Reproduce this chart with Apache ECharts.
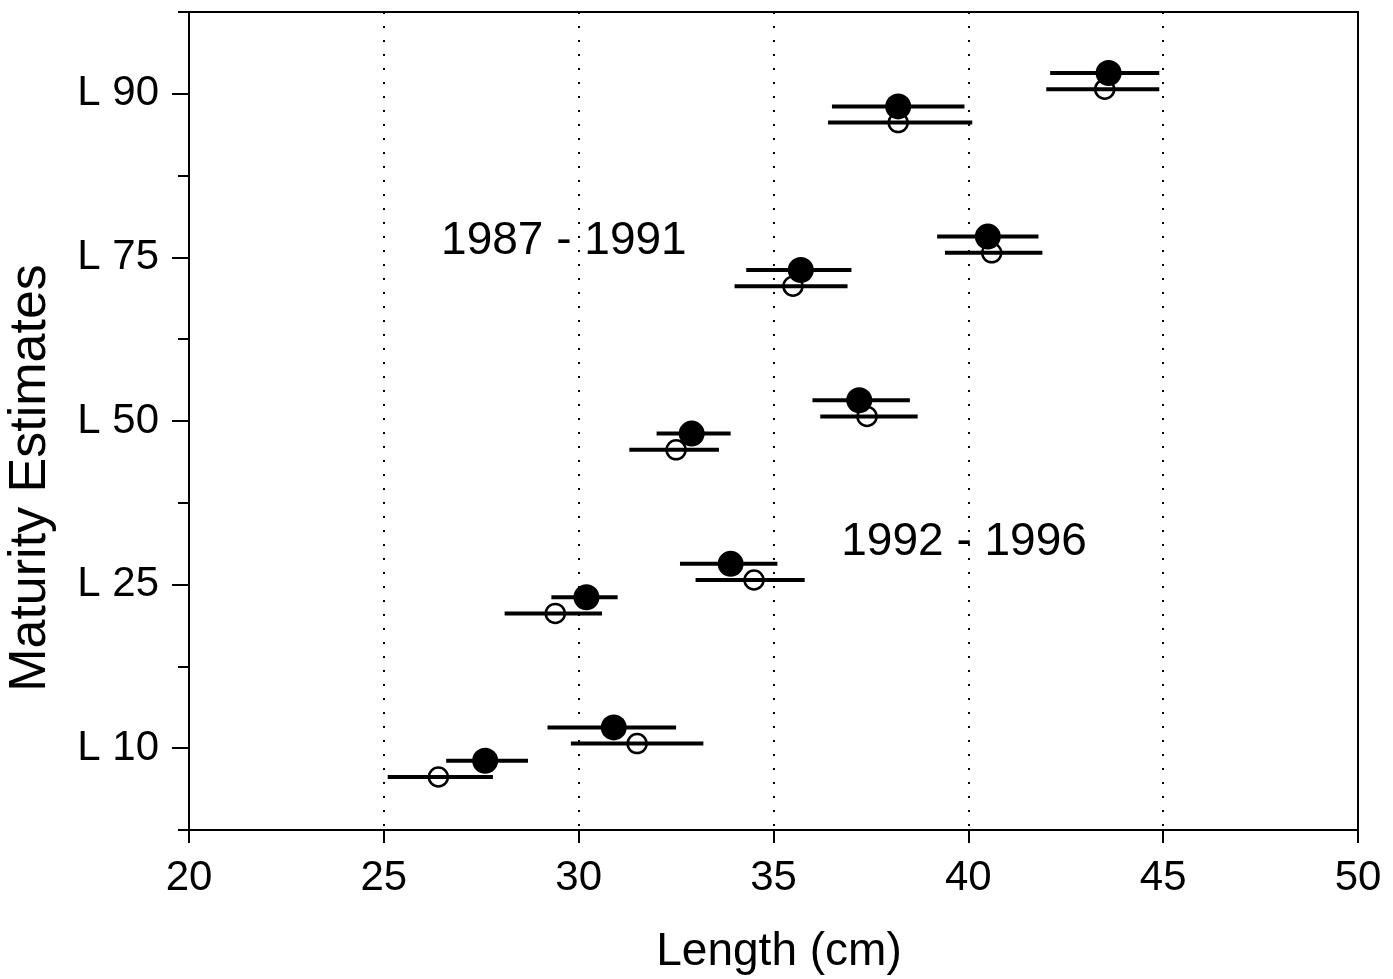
<!DOCTYPE html>
<html>
<head>
<meta charset="utf-8">
<script src="https://cdn.jsdelivr.net/npm/echarts@6/dist/echarts.min.js"></script>
<style>
html,body{margin:0;padding:0;background:#fff;}
#chart{width:1393px;height:979px;}
</style>
</head>
<body>
<div id="chart"></div>
<script>
// ---- Data ----
const categories = ['L 10', 'L 25', 'L 50', 'L 75', 'L 90'];
const xTicks = [20, 25, 30, 35, 40, 45, 50];

// 1987 - 1991 group (left), filled circles
const earlyFilled   = [27.6, 30.2, 32.9, 35.7, 38.2];
const earlyFilledLo = [26.6, 29.3, 32.0, 34.3, 36.5];
const earlyFilledHi = [28.7, 31.0, 33.9, 37.0, 39.9];
// 1987 - 1991 group (left), open circles
const earlyOpen   = [26.4, 29.4, 32.5, 35.5, 38.2];
const earlyOpenLo = [25.1, 28.1, 31.3, 34.0, 36.4];
const earlyOpenHi = [27.8, 30.6, 33.6, 36.9, 40.1];
// 1992 - 1996 group (right), filled circles
const lateFilled   = [30.9, 33.9, 37.2, 40.5, 43.6];
const lateFilledLo = [29.2, 32.6, 36.0, 39.2, 42.1];
const lateFilledHi = [32.5, 35.1, 38.5, 41.8, 44.9];
// 1992 - 1996 group (right), open circles
const lateOpen   = [31.5, 34.5, 37.4, 40.6, 43.5];
const lateOpenLo = [29.8, 33.0, 36.2, 39.4, 42.0];
const lateOpenHi = [33.2, 35.8, 38.7, 41.9, 44.9];

const annotations = [
  { text: '1987 - 1991', x: 29.62, y: 3.60 },
  { text: '1992 - 1996', x: 39.89, y: 1.76 }
];

// ---- Layout / style ----
const FONT = '"Liberation Sans", Arial, Helvetica, sans-serif';
// vertical offsets (in category units) of each row within its category
const OFF = { earlyFilled: -0.077, earlyOpen: -0.176, lateFilled: 0.127, lateOpen: 0.028 };

function yOf(i, off) { return i + 0.5 + off; }

function errSeries(lo, hi, off) {
  return {
    type: 'custom',
    xAxisIndex: 0, yAxisIndex: 0,
    data: categories.map((c, i) => [lo[i], hi[i], yOf(i, off)]),
    encode: { x: [0, 1], y: 2 },
    renderItem: function (params, api) {
      const p1 = api.coord([api.value(0), api.value(2)]);
      const p2 = api.coord([api.value(1), api.value(2)]);
      return {
        type: 'line',
        shape: { x1: p1[0], y1: p1[1], x2: p2[0], y2: p2[1] },
        style: { stroke: '#000', lineWidth: 4 }
      };
    },
    z: 3,
    silent: true
  };
}

function ptSeries(vals, off, filled) {
  return {
    type: 'scatter',
    xAxisIndex: 0, yAxisIndex: 0,
    data: vals.map((v, i) => [v, yOf(i, off)]),
    symbol: 'circle',
    symbolSize: filled ? 26 : 19,
    itemStyle: filled
      ? { color: '#000', opacity: 1 }
      : { color: 'rgba(0,0,0,0)', borderColor: '#000', borderWidth: 2.5, opacity: 1 },
    z: filled ? 4 : 2,
    silent: true
  };
}

const chart = echarts.init(document.getElementById('chart'), null, { renderer: 'canvas' });

const option = {
  backgroundColor: '#fff',
  animation: false,
  grid: {
    left: 189, top: 12, width: 1169, height: 818,
    show: true, borderColor: '#000', borderWidth: 2, backgroundColor: 'transparent'
  },
  xAxis: [{
    type: 'value', min: xTicks[0], max: xTicks[xTicks.length - 1], interval: 5,
    axisLine: { show: true, lineStyle: { color: '#000', width: 2 } },
    axisTick: { show: true, length: 13, inside: false, lineStyle: { color: '#000', width: 2 } },
    axisLabel: { fontSize: 42, color: '#000', fontFamily: FONT, margin: 27 },
    splitLine: { show: true, lineStyle: { color: '#000', width: 2, type: [2, 12] } }
  }],
  yAxis: [{
    type: 'value', min: 0, max: categories.length, interval: 1,
    position: 'left',
    axisLine: { show: true, lineStyle: { color: '#000', width: 2 } },
    axisTick: { show: true, length: 11, lineStyle: { color: '#000', width: 2 } },
    axisLabel: { show: false },
    splitLine: { show: false }
  }, {
    type: 'category', data: categories, boundaryGap: true,
    position: 'left',
    axisLine: { show: false },
    axisTick: { show: true, alignWithLabel: true, length: 17, lineStyle: { color: '#000', width: 2 } },
    axisLabel: { fontSize: 42, color: '#000', fontFamily: FONT, margin: 30 },
    splitLine: { show: false }
  }],
  graphic: [{
    type: 'text',
    x: 31, y: 478,
    rotation: Math.PI / 2,
    style: {
      text: 'Maturity Estimates',
      font: '52px ' + FONT,
      fill: '#000',
      textAlign: 'center',
      textVerticalAlign: 'middle'
    }
  }, {
    type: 'text',
    x: 779, y: 952,
    style: {
      text: 'Length (cm)',
      font: '46px ' + FONT,
      fill: '#000',
      textAlign: 'center',
      textVerticalAlign: 'middle'
    }
  }],
  series: [
    errSeries(earlyOpenLo, earlyOpenHi, OFF.earlyOpen),
    errSeries(earlyFilledLo, earlyFilledHi, OFF.earlyFilled),
    errSeries(lateOpenLo, lateOpenHi, OFF.lateOpen),
    errSeries(lateFilledLo, lateFilledHi, OFF.lateFilled),
    ptSeries(earlyOpen, OFF.earlyOpen, false),
    ptSeries(lateOpen, OFF.lateOpen, false),
    ptSeries(earlyFilled, OFF.earlyFilled, true),
    ptSeries(lateFilled, OFF.lateFilled, true),
    {
      type: 'scatter',
      xAxisIndex: 0, yAxisIndex: 0,
      data: annotations.map(a => ({ value: [a.x, a.y], name: a.text })),
      symbolSize: 0,
      itemStyle: { opacity: 1, color: '#000' },
      label: {
        show: true, position: 'inside', formatter: p => p.name,
        fontSize: 46, color: '#000', opacity: 1, fontFamily: FONT
      },
      silent: true,
      z: 5
    }
  ]
};

chart.setOption(option);
</script>
</body>
</html>
